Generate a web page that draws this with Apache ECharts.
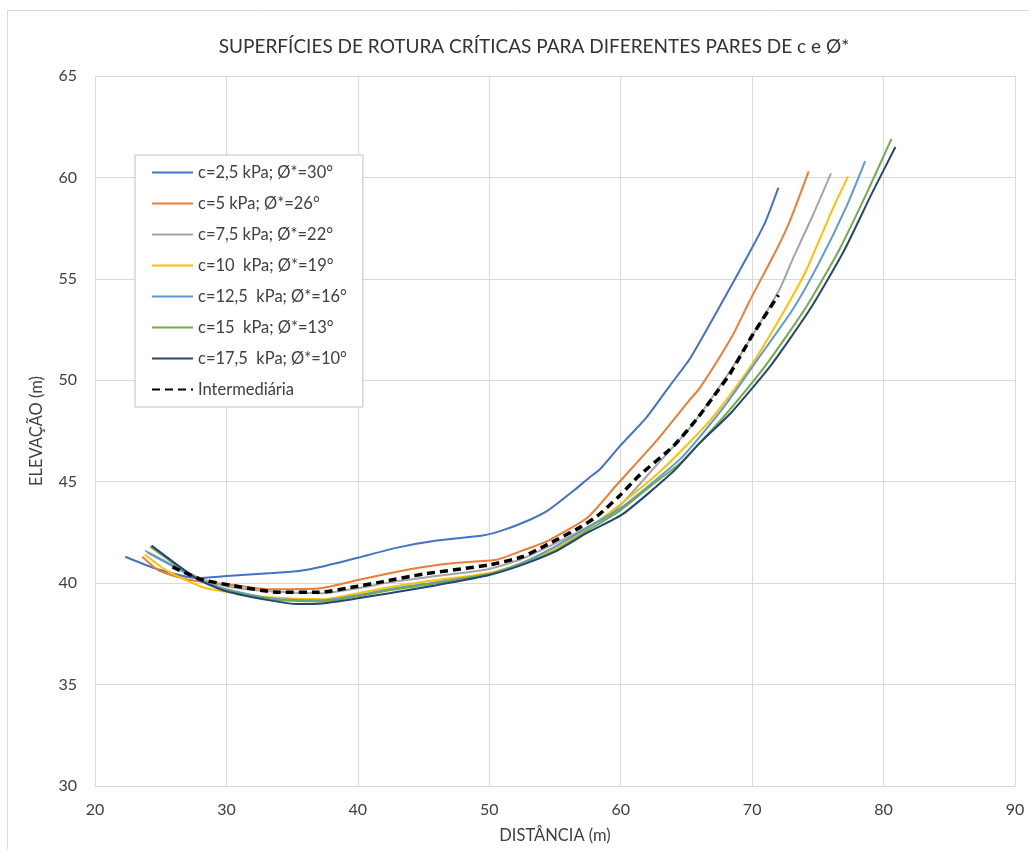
<!DOCTYPE html>
<html>
<head>
<meta charset="utf-8">
<script src="https://cdn.jsdelivr.net/npm/echarts@6/dist/echarts.min.js"></script>
<style>
  html, body { margin: 0; padding: 0; background: #fff; }
  #chart { width: 1029px; height: 849px; }
</style>
</head>
<body>
<div id="chart"></div>
<script>
// Critical failure surfaces: [distance (m), elevation (m)]
const c2_5 = [[22.3,41.3],[24.7,40.7],[27.8,40.25],[30,40.35],[33.5,40.5],[35.5,40.6],[37.5,40.85],[40,41.25],[43,41.75],[46,42.1],[49.5,42.35],[51,42.6],[53,43.1],[54.5,43.6],[56.5,44.6],[57.6,45.2],[58.4,45.6],[60,46.8],[62,48.2],[63.7,49.7],[65.3,51.1],[67.5,53.6],[69.8,56.3],[71,57.8],[72,59.5]];
const c5 = [[23.6,41.3],[24.9,40.6],[27.2,40.15],[30,39.95],[33.3,39.7],[37.2,39.75],[40,40.15],[42.5,40.5],[45,40.8],[47.5,41.0],[50.5,41.15],[52.5,41.6],[54.5,42.1],[57.5,43.25],[59.7,44.85],[62.7,47.0],[65.2,49.0],[66,49.6],[68.5,52.2],[69.8,53.9],[71.9,56.5],[72.9,57.9],[74.3,60.3]];
const c7_5 = [[23.8,41.6],[27.8,40.3],[30,39.85],[33.3,39.6],[37.3,39.5],[40,39.75],[42.5,40.05],[46,40.35],[50,40.7],[52.5,41.2],[54.5,41.8],[57,42.6],[59.2,43.4],[60.5,44.2],[62.7,45.8],[65.2,47.6],[67.8,49.95],[70,52.2],[72.1,54.5],[73.1,56.0],[74.6,58.1],[76.0,60.2]];
const c10 = [[23.8,41.4],[25.5,40.6],[28.2,39.8],[30.3,39.55],[33.3,39.3],[37.3,39.2],[40,39.5],[42.4,39.8],[46,40.15],[50,40.5],[52.5,41.0],[55,41.7],[57.5,42.7],[60,43.9],[63,45.5],[66.5,47.8],[68.7,49.6],[70.3,51.1],[72.6,53.6],[74.1,55.4],[76.1,58.4],[77.3,60.05]];
const c12_5 = [[24,41.5],[27.8,40.2],[30,39.7],[33.3,39.25],[37.3,39.15],[40,39.4],[42.4,39.7],[46,40.05],[50,40.45],[52.5,41.0],[55,41.8],[57.5,42.75],[60,43.7],[62.5,45.0],[64.5,46.1],[66,47.2],[68.1,48.9],[70.6,51.2],[73.1,53.5],[75.1,55.8],[77.2,58.6],[78.6,60.8]];
const c15 = [[24.2,41.8],[27.8,40.2],[30,39.65],[33.3,39.2],[37.3,39.1],[40,39.35],[42.4,39.65],[46,40.0],[50,40.45],[52.5,40.95],[55,41.6],[57.5,42.6],[60,43.6],[62.5,44.9],[64.5,45.9],[66,46.9],[68.1,48.4],[71.1,50.8],[74.1,53.6],[76.6,56.4],[78.7,59.2],[80.6,61.9]];
const c17_5 = [[24.3,41.85],[27.8,40.2],[30,39.6],[33.3,39.15],[35.4,38.97],[37.3,39.0],[40,39.25],[42.4,39.5],[46,39.9],[50,40.4],[52.5,40.9],[55,41.55],[57.5,42.5],[60.15,43.4],[64,45.5],[66,46.9],[68.4,48.4],[71.5,50.8],[74.5,53.6],[77.0,56.4],[79.1,59.2],[80.9,61.5]];
const intermedia = [[25.9,40.8],[28,40.2],[30.3,39.9],[34,39.55],[37,39.55],[40,39.85],[41.7,40.05],[45,40.45],[50,40.9],[52.5,41.3],[54.4,41.9],[56.9,42.75],[58.2,43.3],[59.9,44.3],[61.4,45.3],[64,46.75],[65.8,48.1],[67.4,49.5],[68.3,50.3],[70,52.2],[72,54.2]];

const seriesNames = [
  'c=2,5 kPa; Ø*=30°',
  'c=5 kPa; Ø*=26°',
  'c=7,5 kPa; Ø*=22°',
  'c=10  kPa; Ø*=19°',
  'c=12,5  kPa; Ø*=16°',
  'c=15  kPa; Ø*=13°',
  'c=17,5  kPa; Ø*=10°',
  'Intermediária'
];
const seriesData = [c2_5, c5, c7_5, c10, c12_5, c15, c17_5, intermedia];
const seriesColors = ['#4472C4', '#ED7D31', '#A5A5A5', '#FFC000', '#5B9BD5', '#70AD47', '#264478', '#000000'];

const xTicks = { min: 20, max: 90, step: 10 };
const yTicks = { min: 30, max: 65, step: 5 };

const FONT = 'Lato';
const TEXT = '#404040';
const GRID = '#d9d9d9';

const chart = echarts.init(document.getElementById('chart'), null, { renderer: 'canvas' });

const series = seriesData.map((d, i) => {
  const dashed = i === seriesData.length - 1;
  return {
    name: seriesNames[i],
    type: 'line',
    data: d,
    symbol: 'none',
    smooth: 0.2,
    z: dashed ? 3 : 2,
    lineStyle: {
      color: seriesColors[i],
      width: dashed ? 3.5 : 2,
      type: dashed ? [8, 5] : 'solid'
    },
    itemStyle: { color: seriesColors[i] }
  };
});

chart.setOption({
  animation: false,
  backgroundColor: '#fff',
  title: {
    text: 'SUPERFÍCIES DE ROTURA CRÍTICAS PARA DIFERENTES PARES DE c e Ø*',
    left: 529,
    top: 32,
    textAlign: 'center',
    textStyle: { fontFamily: FONT, fontSize: 19, fontWeight: 'normal', color: '#333' }
  },
  graphic: [{
    type: 'rect',
    z: -10,
    shape: { x: 7.5, y: 10.5, width: 1200, height: 1000 },
    style: { fill: 'none', stroke: GRID, lineWidth: 1 }
  }],
  legend: {
    orient: 'vertical',
    left: 135,
    top: 155,
    padding: [9, 16, 9, 16],
    itemGap: 14,
    itemWidth: 41,
    itemHeight: 14,
    backgroundColor: '#fff',
    borderColor: '#bfbfbf',
    borderWidth: 1,
    z: 10,
    itemStyle: { opacity: 0 },
    textStyle: { fontFamily: FONT, fontSize: 16.5, color: TEXT, lineHeight: 14 },
    data: seriesNames
  },
  grid: { left: 95, right: 14, top: 76, bottom: 59, containLabel: false },
  xAxis: {
    type: 'value',
    min: xTicks.min, max: xTicks.max, interval: xTicks.step,
    name: 'DISTÂNCIA (m)',
    nameLocation: 'middle',
    nameGap: 41,
    nameTextStyle: { fontFamily: FONT, fontSize: 16.5, color: TEXT },
    axisLine: { show: true, lineStyle: { color: GRID, width: 1 } },
    axisTick: { show: false },
    axisLabel: { fontFamily: FONT, fontSize: 16, color: TEXT, margin: 16 },
    splitLine: { show: true, lineStyle: { color: GRID, width: 1 } }
  },
  yAxis: {
    type: 'value',
    min: yTicks.min, max: yTicks.max, interval: yTicks.step,
    name: 'ELEVAÇÃO (m)',
    nameLocation: 'middle',
    nameGap: 50,
    nameRotate: 90,
    nameTextStyle: { fontFamily: FONT, fontSize: 16.5, color: TEXT },
    axisLine: { show: true, lineStyle: { color: GRID, width: 1 } },
    axisTick: { show: false },
    axisLabel: { fontFamily: FONT, fontSize: 16, color: TEXT, margin: 18 },
    splitLine: { show: true, lineStyle: { color: GRID, width: 1 } }
  },
  series: series
});
</script>
</body>
</html>
